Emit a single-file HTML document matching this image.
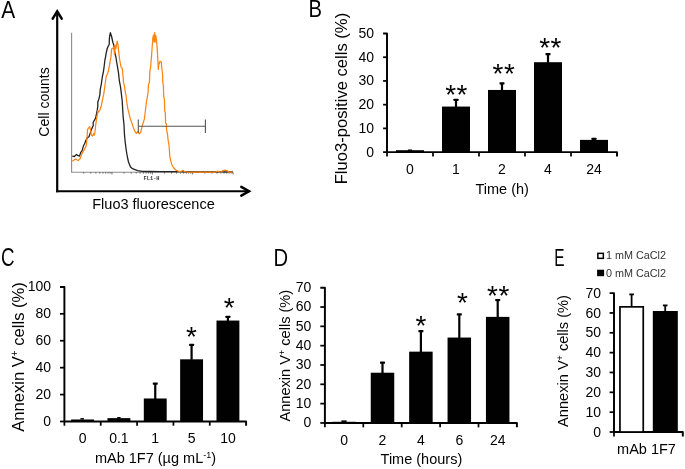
<!DOCTYPE html>
<html><head><meta charset="utf-8"><style>
html,body{margin:0;padding:0;background:#fff;width:685px;height:469px;overflow:hidden;}
body{position:relative;font-family:"Liberation Sans", sans-serif;}
</style></head><body>
<svg width="685" height="469" viewBox="0 0 685 469" style="position:absolute;left:0;top:0">
<g font-family='"Liberation Sans", sans-serif' fill="#000" opacity="0.999">
<text x="0" y="0" font-size="24" transform="translate(1.2 17.7) scale(0.87 1)">A</text>
<line x1="57.2" y1="11.5" x2="57.2" y2="192.3" stroke="#000" stroke-width="2.2" />
<line x1="56.1" y1="191.25" x2="249.5" y2="191.25" stroke="#000" stroke-width="2.2" />
<path d="M52.7 18.7 L57.2 11.3 L61.7 18.7" fill="none" stroke="#000" stroke-width="2.5" stroke-linejoin="miter" stroke-linecap="round"/>
<path d="M241.3 186.9 L249.0 191.25 L241.3 195.6" fill="none" stroke="#000" stroke-width="2.5" stroke-linejoin="miter" stroke-linecap="round"/>
<text x="0" y="0" font-size="14" text-anchor="middle" transform="translate(48.6 102) rotate(-90)" >Cell counts</text>
<text x="153.5" y="208.6" font-size="14.5" text-anchor="middle" >Fluo3 fluorescence</text>
<line x1="71.6" y1="32.7" x2="71.6" y2="172.2" stroke="#8c8c8c" stroke-width="1.1" />
<line x1="71.1" y1="172.2" x2="233" y2="172.2" stroke="#8c8c8c" stroke-width="1.1" />
<line x1="83.75" y1="172.2" x2="83.75" y2="173.6" stroke="#555" stroke-width="0.9" />
<line x1="90.85" y1="172.2" x2="90.85" y2="173.6" stroke="#555" stroke-width="0.9" />
<line x1="95.89" y1="172.2" x2="95.89" y2="173.6" stroke="#555" stroke-width="0.9" />
<line x1="99.8" y1="172.2" x2="99.8" y2="173.6" stroke="#555" stroke-width="0.9" />
<line x1="103" y1="172.2" x2="103" y2="173.6" stroke="#555" stroke-width="0.9" />
<line x1="105.7" y1="172.2" x2="105.7" y2="173.6" stroke="#555" stroke-width="0.9" />
<line x1="108.04" y1="172.2" x2="108.04" y2="173.6" stroke="#555" stroke-width="0.9" />
<line x1="110.1" y1="172.2" x2="110.1" y2="173.6" stroke="#555" stroke-width="0.9" />
<line x1="111.95" y1="172.2" x2="111.95" y2="174.4" stroke="#555" stroke-width="0.9" />
<line x1="124.1" y1="172.2" x2="124.1" y2="173.6" stroke="#555" stroke-width="0.9" />
<line x1="131.2" y1="172.2" x2="131.2" y2="173.6" stroke="#555" stroke-width="0.9" />
<line x1="136.24" y1="172.2" x2="136.24" y2="173.6" stroke="#555" stroke-width="0.9" />
<line x1="140.15" y1="172.2" x2="140.15" y2="173.6" stroke="#555" stroke-width="0.9" />
<line x1="143.35" y1="172.2" x2="143.35" y2="173.6" stroke="#555" stroke-width="0.9" />
<line x1="146.05" y1="172.2" x2="146.05" y2="173.6" stroke="#555" stroke-width="0.9" />
<line x1="148.39" y1="172.2" x2="148.39" y2="173.6" stroke="#555" stroke-width="0.9" />
<line x1="150.45" y1="172.2" x2="150.45" y2="173.6" stroke="#555" stroke-width="0.9" />
<line x1="152.3" y1="172.2" x2="152.3" y2="174.4" stroke="#555" stroke-width="0.9" />
<line x1="164.45" y1="172.2" x2="164.45" y2="173.6" stroke="#555" stroke-width="0.9" />
<line x1="171.55" y1="172.2" x2="171.55" y2="173.6" stroke="#555" stroke-width="0.9" />
<line x1="176.59" y1="172.2" x2="176.59" y2="173.6" stroke="#555" stroke-width="0.9" />
<line x1="180.5" y1="172.2" x2="180.5" y2="173.6" stroke="#555" stroke-width="0.9" />
<line x1="183.7" y1="172.2" x2="183.7" y2="173.6" stroke="#555" stroke-width="0.9" />
<line x1="186.4" y1="172.2" x2="186.4" y2="173.6" stroke="#555" stroke-width="0.9" />
<line x1="188.74" y1="172.2" x2="188.74" y2="173.6" stroke="#555" stroke-width="0.9" />
<line x1="190.8" y1="172.2" x2="190.8" y2="173.6" stroke="#555" stroke-width="0.9" />
<line x1="192.65" y1="172.2" x2="192.65" y2="174.4" stroke="#555" stroke-width="0.9" />
<line x1="204.8" y1="172.2" x2="204.8" y2="173.6" stroke="#555" stroke-width="0.9" />
<line x1="211.9" y1="172.2" x2="211.9" y2="173.6" stroke="#555" stroke-width="0.9" />
<line x1="216.94" y1="172.2" x2="216.94" y2="173.6" stroke="#555" stroke-width="0.9" />
<line x1="220.85" y1="172.2" x2="220.85" y2="173.6" stroke="#555" stroke-width="0.9" />
<line x1="224.05" y1="172.2" x2="224.05" y2="173.6" stroke="#555" stroke-width="0.9" />
<line x1="226.75" y1="172.2" x2="226.75" y2="173.6" stroke="#555" stroke-width="0.9" />
<line x1="229.09" y1="172.2" x2="229.09" y2="173.6" stroke="#555" stroke-width="0.9" />
<line x1="231.15" y1="172.2" x2="231.15" y2="173.6" stroke="#555" stroke-width="0.9" />
<line x1="233" y1="172.2" x2="233" y2="174.4" stroke="#555" stroke-width="0.9" />
<text x="143.6" y="179.7" font-size="5.3" text-anchor="start" font-family="Liberation Mono" font-weight="bold" fill="#333">FL1-H</text>
<polyline points="72.3,156.1 74.4,156.5 76.5,154.4 78.2,155.7 79.5,156.1 80.8,152.3 82.1,150.6 83.3,146.3 84.6,143.8 85.9,140.3 87.6,137.4 88.9,136.9 90.2,133.1 91.9,128.4 93.3,125.5 93.1,122.5 95.6,118.2 96.5,114 97.3,109.7 97.8,106.3 97.8,102 99,98.6 99.9,94.4 100.3,89.3 101.3,84 102.3,77 103.5,71.1 104.2,66 104.9,60 105.4,57.8 106.1,53.6 107.2,48.5 108.3,45.9 109.2,44.5 109.3,40 109.6,36.5 110.4,32.7 111.6,36.5 112.9,42.5 113.8,45 115,53.6 115.9,57 116.5,61 117.2,65.1 118.5,72.8 119.3,80.5 120.6,87.3 121.4,94.1 122.2,101 123.1,116.3 124,124.8 124.5,135 125.2,142 126.2,150 127.3,156.5 128.5,162 130.5,166.9 132.5,168.7 137.5,170.6 142.4,171.4 150,171.5 160,171.7 175,171.6 200,171.8 233,171.8" fill="none" stroke="#222" stroke-width="1.3" stroke-linejoin="round"/>
<polyline points="72.3,161.2 74,160 75.7,159.1 77,160 78.2,160.4 79.9,159.1 80.8,156.5 82.1,153.1 83.8,150.6 85.1,148 86.3,145.5 86.8,140.3 87.2,135.2 87.6,129.3 88.9,127.6 89.7,126.7 90.6,130.1 91.4,135.2 92.7,136.1 93.6,133.5 94.4,135.2 95.1,131 95.7,125 96.5,119.1 97.3,114.8 97.8,110.6 98.6,112.3 99.9,109.7 101.2,106.3 102,102 102.9,97.8 103.7,94.4 104.3,90.1 105,85 105.6,80.5 106.3,76 107.7,73.5 109.2,67 110.2,61 110.8,57.8 111.3,53.6 111.6,48.9 112.5,48.5 113.8,47.6 114.4,54 115,45 115.8,49 117.2,41.2 118,45 118.9,53.6 119.7,60 121,66.8 122.3,68.5 123.1,77 123.6,83 124.4,85.6 124.9,89.8 126.1,95.8 126.6,101 127.8,108.6 129.1,113.8 130.3,118.9 131.6,122.3 133.3,127.4 135,131.7 136.3,133.4 137.6,131.7 139.3,133.8 140.6,132.5 142.3,125.7 144.4,118.9 145.5,110 146.4,102 147.2,97.8 148.1,91.8 148.5,84.2 149.4,82.5 149.8,72.2 150.7,66.3 151.2,60 151.6,55 152,49 152.4,44 152.8,38.2 153.6,34.8 154.1,42 154.7,32.7 155.3,42 155.8,35.7 156.6,40.8 157.1,47.6 157.5,53.6 157.9,61.2 158.3,69.5 158.8,64.7 160,61.2 161.3,62.1 161.7,67.1 162.6,74.8 162.8,82.5 163.4,85.9 163.7,96.1 164.5,100 164.7,111.1 165.3,112.4 165.6,123 166.4,123.9 166.6,129.8 167.5,134.1 168.1,140 169,145.2 169.4,150.3 169.8,156.3 170.7,160.6 171.9,164.8 173.6,167.8 175.8,170 178.3,171.2 180.5,171.8 182.6,170.4 184.7,171.5 187.3,172 215.5,172 217.6,171.2 219.5,172 221.4,171.8 223,170.6 225.2,170.2 227.5,170.8 228.7,172 232.8,172" fill="none" stroke="#ff8512" stroke-width="1.25" stroke-linejoin="round"/>
<line x1="138.3" y1="126.3" x2="205.4" y2="126.3" stroke="#555" stroke-width="1.1" />
<line x1="138.3" y1="119.6" x2="138.3" y2="133" stroke="#555" stroke-width="1.1" />
<line x1="205.4" y1="119.6" x2="205.4" y2="133" stroke="#555" stroke-width="1.1" />
<text x="0" y="0" font-size="23.8" transform="translate(308.6 17) scale(0.85 1)">B</text>
<path d="M383.1 33.5 H387 V152.1" fill="none" stroke="#000" stroke-width="1.95" stroke-linejoin="round" />
<line x1="383.1" y1="152.1" x2="387" y2="152.1" stroke="#000" stroke-width="1.75" />
<text x="374" y="156.5" font-size="14" text-anchor="end" >0</text>
<line x1="383.1" y1="128.38" x2="387" y2="128.38" stroke="#000" stroke-width="1.75" />
<text x="374" y="132.78" font-size="14" text-anchor="end" >10</text>
<line x1="383.1" y1="104.66" x2="387" y2="104.66" stroke="#000" stroke-width="1.75" />
<text x="374" y="109.06" font-size="14" text-anchor="end" >20</text>
<line x1="383.1" y1="80.94" x2="387" y2="80.94" stroke="#000" stroke-width="1.75" />
<text x="374" y="85.34" font-size="14" text-anchor="end" >30</text>
<line x1="383.1" y1="57.22" x2="387" y2="57.22" stroke="#000" stroke-width="1.75" />
<text x="374" y="61.62" font-size="14" text-anchor="end" >40</text>
<text x="374" y="37.9" font-size="14" text-anchor="end" >50</text>
<path d="M387 152.1 H617 V156.6" fill="none" stroke="#000" stroke-width="1.95" stroke-linejoin="round" />
<line x1="387" y1="152.1" x2="387" y2="156.6" stroke="#000" stroke-width="1.75" />
<line x1="433" y1="152.1" x2="433" y2="156.6" stroke="#000" stroke-width="1.75" />
<line x1="479" y1="152.1" x2="479" y2="156.6" stroke="#000" stroke-width="1.75" />
<line x1="525" y1="152.1" x2="525" y2="156.6" stroke="#000" stroke-width="1.75" />
<line x1="571" y1="152.1" x2="571" y2="156.6" stroke="#000" stroke-width="1.75" />
<rect x="396" y="150.2" width="28" height="1.9" fill="#000" />
<text x="410" y="174.2" font-size="14" text-anchor="middle" >0</text>
<rect x="454.9" y="99.92" width="2.2" height="7.14" fill="#000" />
<rect x="453.5" y="98.77" width="5" height="2.3" fill="#000" rx="0.6"/>
<rect x="442" y="106.56" width="28" height="45.54" fill="#000" />
<text x="456" y="174.2" font-size="14" text-anchor="middle" >1</text>
<rect x="500.9" y="83.31" width="2.2" height="7.14" fill="#000" />
<rect x="499.5" y="82.16" width="5" height="2.3" fill="#000" rx="0.6"/>
<rect x="488" y="89.95" width="28" height="62.15" fill="#000" />
<text x="502" y="174.2" font-size="14" text-anchor="middle" >2</text>
<rect x="546.9" y="54.14" width="2.2" height="8.56" fill="#000" />
<rect x="545.5" y="52.99" width="5" height="2.3" fill="#000" rx="0.6"/>
<rect x="534" y="62.2" width="28" height="89.9" fill="#000" />
<text x="548" y="174.2" font-size="14" text-anchor="middle" >4</text>
<rect x="592.9" y="138.82" width="2.2" height="1.57" fill="#000" />
<rect x="591.5" y="137.67" width="5" height="2.3" fill="#000" rx="0.6"/>
<rect x="580" y="139.88" width="28" height="12.22" fill="#000" />
<text x="594" y="174.2" font-size="14" text-anchor="middle" >24</text>
<rect x="407.9" y="149.5" width="4.2" height="1.5" fill="#000" />
<text x="445.2" y="104.2" font-size="28" text-anchor="start" letter-spacing="0.4">**</text>
<text x="492.6" y="82.9" font-size="28" text-anchor="start" letter-spacing="0.4">**</text>
<text x="539.2" y="57.2" font-size="28" text-anchor="start" letter-spacing="0.4">**</text>
<text x="502.15" y="193.9" font-size="14.5" text-anchor="middle" >Time (h)</text>
<text x="0" y="0" font-size="16.6" text-anchor="middle" transform="translate(346.9 98.6) rotate(-90)" >Fluo3-positive cells (%)</text>
<text x="0" y="0" font-size="26" transform="translate(1 266) scale(0.72 1)">C</text>
<path d="M60 286.9 H64.4 V421.5" fill="none" stroke="#000" stroke-width="1.95" stroke-linejoin="round" />
<line x1="60" y1="421.5" x2="64.4" y2="421.5" stroke="#000" stroke-width="1.75" />
<text x="51" y="425.9" font-size="14" text-anchor="end" >0</text>
<line x1="60" y1="394.58" x2="64.4" y2="394.58" stroke="#000" stroke-width="1.75" />
<text x="51" y="398.98" font-size="14" text-anchor="end" >20</text>
<line x1="60" y1="367.66" x2="64.4" y2="367.66" stroke="#000" stroke-width="1.75" />
<text x="51" y="372.06" font-size="14" text-anchor="end" >40</text>
<line x1="60" y1="340.74" x2="64.4" y2="340.74" stroke="#000" stroke-width="1.75" />
<text x="51" y="345.14" font-size="14" text-anchor="end" >60</text>
<line x1="60" y1="313.82" x2="64.4" y2="313.82" stroke="#000" stroke-width="1.75" />
<text x="51" y="318.22" font-size="14" text-anchor="end" >80</text>
<text x="51" y="291.3" font-size="14" text-anchor="end" >100</text>
<path d="M64.4 421.5 H246.1 V425.7" fill="none" stroke="#000" stroke-width="1.95" stroke-linejoin="round" />
<line x1="64.4" y1="421.5" x2="64.4" y2="425.7" stroke="#000" stroke-width="1.75" />
<line x1="100.74" y1="421.5" x2="100.74" y2="425.7" stroke="#000" stroke-width="1.75" />
<line x1="137.08" y1="421.5" x2="137.08" y2="425.7" stroke="#000" stroke-width="1.75" />
<line x1="173.42" y1="421.5" x2="173.42" y2="425.7" stroke="#000" stroke-width="1.75" />
<line x1="209.76" y1="421.5" x2="209.76" y2="425.7" stroke="#000" stroke-width="1.75" />
<rect x="71.12" y="419.48" width="22.9" height="2.02" fill="#000" />
<text x="82.57" y="443" font-size="14" text-anchor="middle" >0</text>
<rect x="107.46" y="418.13" width="22.9" height="3.37" fill="#000" />
<text x="118.91" y="443" font-size="14" text-anchor="middle" >0.1</text>
<rect x="154.15" y="383.54" width="2.2" height="15.44" fill="#000" />
<rect x="152.75" y="382.39" width="5" height="2.3" fill="#000" rx="0.6"/>
<rect x="143.8" y="398.48" width="22.9" height="23.02" fill="#000" />
<text x="155.25" y="443" font-size="14" text-anchor="middle" >1</text>
<rect x="190.49" y="344.78" width="2.2" height="15.04" fill="#000" />
<rect x="189.09" y="343.63" width="5" height="2.3" fill="#000" rx="0.6"/>
<rect x="180.14" y="359.31" width="22.9" height="62.19" fill="#000" />
<text x="191.59" y="443" font-size="14" text-anchor="middle" >5</text>
<rect x="226.83" y="316.78" width="2.2" height="4.27" fill="#000" />
<rect x="225.43" y="315.63" width="5" height="2.3" fill="#000" rx="0.6"/>
<rect x="216.48" y="320.55" width="22.9" height="100.95" fill="#000" />
<text x="227.93" y="443" font-size="14" text-anchor="middle" >10</text>
<rect x="80.4" y="418.1" width="3.5" height="1.5" fill="#000" />
<rect x="117.2" y="417" width="3.4" height="1.5" fill="#000" />
<text x="186" y="345.8" font-size="28" text-anchor="start" letter-spacing="0.4">*</text>
<text x="223.8" y="316.6" font-size="28" text-anchor="start" letter-spacing="0.4">*</text>
<text x="155.5" y="463" font-size="14.5" text-anchor="middle" >mAb 1F7 (µg mL<tspan font-size="9" dy="-5">-1</tspan><tspan dy="5">)</tspan></text>
<text x="0" y="0" font-size="16.6" text-anchor="middle" transform="translate(24 357) rotate(-90)" >Annexin V<tspan font-size="10" dy="-6">+</tspan><tspan dy="6"> cells (%)</tspan></text>
<text x="0" y="0" font-size="24.5" transform="translate(273.6 265.7) scale(0.826 1)">D</text>
<path d="M320.3 287.7 H324.9 V422.95" fill="none" stroke="#000" stroke-width="1.95" stroke-linejoin="round" />
<line x1="320.3" y1="422.95" x2="324.9" y2="422.95" stroke="#000" stroke-width="1.75" />
<text x="311.3" y="427.25" font-size="14" text-anchor="end" >0</text>
<line x1="320.3" y1="403.63" x2="324.9" y2="403.63" stroke="#000" stroke-width="1.75" />
<text x="311.3" y="407.93" font-size="14" text-anchor="end" >10</text>
<line x1="320.3" y1="384.31" x2="324.9" y2="384.31" stroke="#000" stroke-width="1.75" />
<text x="311.3" y="388.61" font-size="14" text-anchor="end" >20</text>
<line x1="320.3" y1="364.99" x2="324.9" y2="364.99" stroke="#000" stroke-width="1.75" />
<text x="311.3" y="369.29" font-size="14" text-anchor="end" >30</text>
<line x1="320.3" y1="345.66" x2="324.9" y2="345.66" stroke="#000" stroke-width="1.75" />
<text x="311.3" y="349.96" font-size="14" text-anchor="end" >40</text>
<line x1="320.3" y1="326.34" x2="324.9" y2="326.34" stroke="#000" stroke-width="1.75" />
<text x="311.3" y="330.64" font-size="14" text-anchor="end" >50</text>
<line x1="320.3" y1="307.02" x2="324.9" y2="307.02" stroke="#000" stroke-width="1.75" />
<text x="311.3" y="311.32" font-size="14" text-anchor="end" >60</text>
<text x="311.3" y="292" font-size="14" text-anchor="end" >70</text>
<path d="M324.9 422.95 H516.9 V427.35" fill="none" stroke="#000" stroke-width="1.95" stroke-linejoin="round" />
<line x1="324.9" y1="422.95" x2="324.9" y2="427.35" stroke="#000" stroke-width="1.75" />
<line x1="363.3" y1="422.95" x2="363.3" y2="427.35" stroke="#000" stroke-width="1.75" />
<line x1="401.7" y1="422.95" x2="401.7" y2="427.35" stroke="#000" stroke-width="1.75" />
<line x1="440.1" y1="422.95" x2="440.1" y2="427.35" stroke="#000" stroke-width="1.75" />
<line x1="478.5" y1="422.95" x2="478.5" y2="427.35" stroke="#000" stroke-width="1.75" />
<rect x="332.35" y="421.79" width="23.5" height="1.16" fill="#000" />
<text x="344.1" y="445" font-size="14" text-anchor="middle" >0</text>
<rect x="381.4" y="362.67" width="2.2" height="10.55" fill="#000" />
<rect x="380" y="361.52" width="5" height="2.3" fill="#000" rx="0.6"/>
<rect x="370.75" y="372.71" width="23.5" height="50.24" fill="#000" />
<text x="382.5" y="445" font-size="14" text-anchor="middle" >2</text>
<rect x="419.8" y="331.17" width="2.2" height="20.98" fill="#000" />
<rect x="418.4" y="330.02" width="5" height="2.3" fill="#000" rx="0.6"/>
<rect x="409.15" y="351.65" width="23.5" height="71.3" fill="#000" />
<text x="420.9" y="445" font-size="14" text-anchor="middle" >4</text>
<rect x="458.2" y="314.36" width="2.2" height="23.69" fill="#000" />
<rect x="456.8" y="313.21" width="5" height="2.3" fill="#000" rx="0.6"/>
<rect x="447.55" y="337.55" width="23.5" height="85.4" fill="#000" />
<text x="459.3" y="445" font-size="14" text-anchor="middle" >6</text>
<rect x="496.6" y="300.07" width="2.2" height="17.31" fill="#000" />
<rect x="495.2" y="298.92" width="5" height="2.3" fill="#000" rx="0.6"/>
<rect x="485.95" y="316.88" width="23.5" height="106.07" fill="#000" />
<text x="497.7" y="445" font-size="14" text-anchor="middle" >24</text>
<rect x="341.4" y="420.4" width="5.2" height="1.6" fill="#000" />
<text x="415.6" y="334.7" font-size="28" text-anchor="start" letter-spacing="0.4">*</text>
<text x="456.9" y="312.4" font-size="28" text-anchor="start" letter-spacing="0.4">*</text>
<text x="487.1" y="304.7" font-size="28" text-anchor="start" letter-spacing="0.4">**</text>
<text x="421.4" y="464.2" font-size="14.5" text-anchor="middle" >Time (hours)</text>
<text x="0" y="0" font-size="14.6" text-anchor="middle" transform="translate(290 355.7) rotate(-90)" >Annexin V<tspan font-size="9" dy="-5">+</tspan><tspan dy="5"> cells (%)</tspan></text>
<text x="0" y="0" font-size="24.5" transform="translate(554.3 265.7) scale(0.63 1)">E</text>
<rect x="597.85" y="253.35" width="5.5" height="5" fill="#fff" stroke="#000" stroke-width="1.5"/>
<text x="606" y="259.3" font-size="10.8" text-anchor="start" fill="#333">1 mM CaCl2</text>
<rect x="597.1" y="269.7" width="7" height="6.5" fill="#000" />
<text x="606" y="276.6" font-size="10.8" text-anchor="start" fill="#333">0 mM CaCl2</text>
<path d="M609.6 293.1 H614 V432" fill="none" stroke="#000" stroke-width="1.95" stroke-linejoin="round" />
<line x1="609.6" y1="432" x2="614" y2="432" stroke="#000" stroke-width="1.75" />
<text x="601" y="436.7" font-size="14" text-anchor="end" >0</text>
<line x1="609.6" y1="412.16" x2="614" y2="412.16" stroke="#000" stroke-width="1.75" />
<text x="601" y="416.86" font-size="14" text-anchor="end" >10</text>
<line x1="609.6" y1="392.31" x2="614" y2="392.31" stroke="#000" stroke-width="1.75" />
<text x="601" y="397.01" font-size="14" text-anchor="end" >20</text>
<line x1="609.6" y1="372.47" x2="614" y2="372.47" stroke="#000" stroke-width="1.75" />
<text x="601" y="377.17" font-size="14" text-anchor="end" >30</text>
<line x1="609.6" y1="352.63" x2="614" y2="352.63" stroke="#000" stroke-width="1.75" />
<text x="601" y="357.33" font-size="14" text-anchor="end" >40</text>
<line x1="609.6" y1="332.79" x2="614" y2="332.79" stroke="#000" stroke-width="1.75" />
<text x="601" y="337.49" font-size="14" text-anchor="end" >50</text>
<line x1="609.6" y1="312.94" x2="614" y2="312.94" stroke="#000" stroke-width="1.75" />
<text x="601" y="317.64" font-size="14" text-anchor="end" >60</text>
<text x="601" y="297.8" font-size="14" text-anchor="end" >70</text>
<path d="M614 432 H682.8 V436.4" fill="none" stroke="#000" stroke-width="1.95" stroke-linejoin="round" />
<line x1="614" y1="432" x2="614" y2="436.4" stroke="#000" stroke-width="1.75" />
<rect x="630.7" y="294.4" width="1.8" height="12.4" fill="#000" />
<rect x="629.3" y="293.5" width="4.6" height="1.8" fill="#000" />
<rect x="619.95" y="306.85" width="23.3" height="125.15" fill="#fff" stroke="#000" stroke-width="1.7"/>
<rect x="664.3" y="305.4" width="1.8" height="6" fill="#000" />
<rect x="662.9" y="304.5" width="4.6" height="1.8" fill="#000" />
<rect x="652.8" y="311" width="25" height="121" fill="#000" />
<text x="646.5" y="453.6" font-size="14.5" text-anchor="middle" >mAb 1F7</text>
<text x="0" y="0" font-size="14.6" text-anchor="middle" transform="translate(567.6 361) rotate(-90)" >Annexin V<tspan font-size="9" dy="-5">+</tspan><tspan dy="5"> cells (%)</tspan></text>
</g></svg>
</body></html>
